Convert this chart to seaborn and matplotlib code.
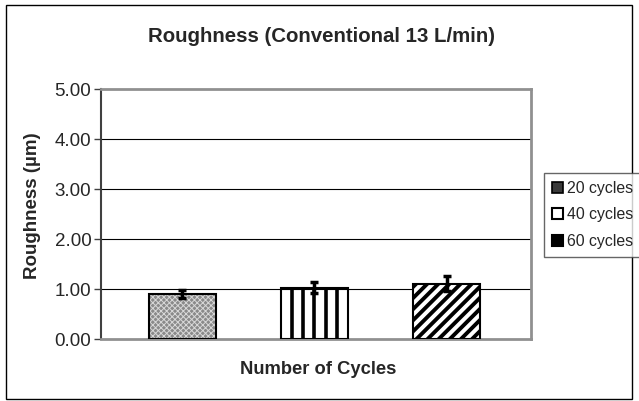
import numpy as np
import pandas as pd
import matplotlib
matplotlib.use("Agg")
import matplotlib.pyplot as plt
import matplotlib.patches as mpatches
import seaborn as sns

# Data
series = ["20 cycles", "40 cycles", "60 cycles"]
roughness = [0.91, 1.03, 1.11]
errors = [0.08, 0.11, 0.15]
yticks = [0.0, 1.0, 2.0, 3.0, 4.0, 5.0]

df = pd.DataFrame({"series": series, "roughness": roughness})

sns.set_theme(style="white")
plt.rcParams["font.family"] = ["Liberation Sans", "DejaVu Sans"]
plt.rcParams["hatch.linewidth"] = 2.8

fig = plt.figure(figsize=(6.39, 4.01), dpi=100)
ax = fig.add_axes([101 / 639, 1 - 339 / 401, 430 / 639, 250 / 401])

sns.barplot(data=df, x="series", y="roughness", ax=ax, width=0.507,
            color="white", edgecolor="black", linewidth=1.5, errorbar=None)

bars = list(ax.patches)
# bar 1: fine grey checker
b = bars[0]
hp = mpatches.Rectangle((b.get_x(), 0), b.get_width(), b.get_height(), facecolor="#8a8a8a",
                        edgecolor="#d8d8d8", linewidth=0, hatch="xxxxxx", zorder=2)
if hasattr(hp, "set_hatch_linewidth"):
    hp.set_hatch_linewidth(0.7)
ax.add_patch(hp)
# bar 2: vertical stripes
b = bars[1]
for k in range(1, 6):
    ax.vlines(b.get_x() + k * b.get_width() / 6, 0, b.get_height(), color="black",
              linewidth=2.6, zorder=2)
# bar 3: diagonal stripes
b = bars[2]
ax.add_patch(mpatches.Rectangle((b.get_x(), 0), b.get_width(), b.get_height(), facecolor="white",
                                edgecolor="black", linewidth=0, hatch="///", zorder=2))
for b in bars:
    b.set_facecolor("none")
    b.set_zorder(3)

ax.errorbar(np.arange(len(series)), roughness, yerr=errors, fmt="none",
            ecolor="black", elinewidth=2.5, capsize=3, capthick=2.5, zorder=4)

ax.set_ylim(0, 5)
ax.set_xlim(-0.616, 2.639)
ax.set_yticks(yticks)
ax.set_yticklabels([f"{v:.2f}" for v in yticks], fontsize=13.5)
ax.set_xticks([])
ax.tick_params(axis="y", direction="out", length=5, width=1, color="#404040", pad=2, left=True)
for v in yticks[1:-1]:
    ax.axhline(v, color="black", linewidth=0.8, zorder=1)

for side in ["top", "right", "bottom"]:
    ax.spines[side].set_color("#909090")
    ax.spines[side].set_linewidth(2)
ax.spines["left"].set_color("#404040")
ax.spines["left"].set_linewidth(1.5)

ax.set_xlabel("")
ax.set_ylabel("")
fig.text(318 / 639, 1 - 370 / 401, "Number of Cycles", ha="center", va="center",
         fontsize=13.2, fontweight="bold")
fig.text(33 / 639, 1 - 206 / 401, "Roughness (µm)", ha="center", va="center",
         rotation=90, fontsize=13.5, fontweight="bold")
fig.text(321 / 639, 1 - 37 / 401, "Roughness (Conventional 13 L/min)", ha="center", va="center",
         fontsize=14.7, fontweight="bold")

h20 = mpatches.Patch(facecolor="#3a3a3a", edgecolor="black", linewidth=1.2)
h40 = mpatches.Patch(facecolor="white", edgecolor="black", linewidth=1.5)
h60 = mpatches.Patch(facecolor="black", edgecolor="black", linewidth=1.5)
leg = fig.legend([h20, h40, h60], series, loc="upper left",
                 bbox_to_anchor=(544 / 639, 1 - 173 / 401),
                 frameon=True, fancybox=False, fontsize=11.4, handlelength=0.7, handleheight=0.7,
                 handletextpad=0.25, labelspacing=0.72, borderpad=0.5, borderaxespad=0)
leg.get_frame().set_edgecolor("#404040")
leg.get_frame().set_linewidth(1)

fig.patches.append(mpatches.Rectangle((6 / 639, 1 - 399 / 401), 626 / 639, 394 / 401,
                                      transform=fig.transFigure, fill=False,
                                      edgecolor="black", linewidth=1))

fig.savefig("out.png", dpi=100)
